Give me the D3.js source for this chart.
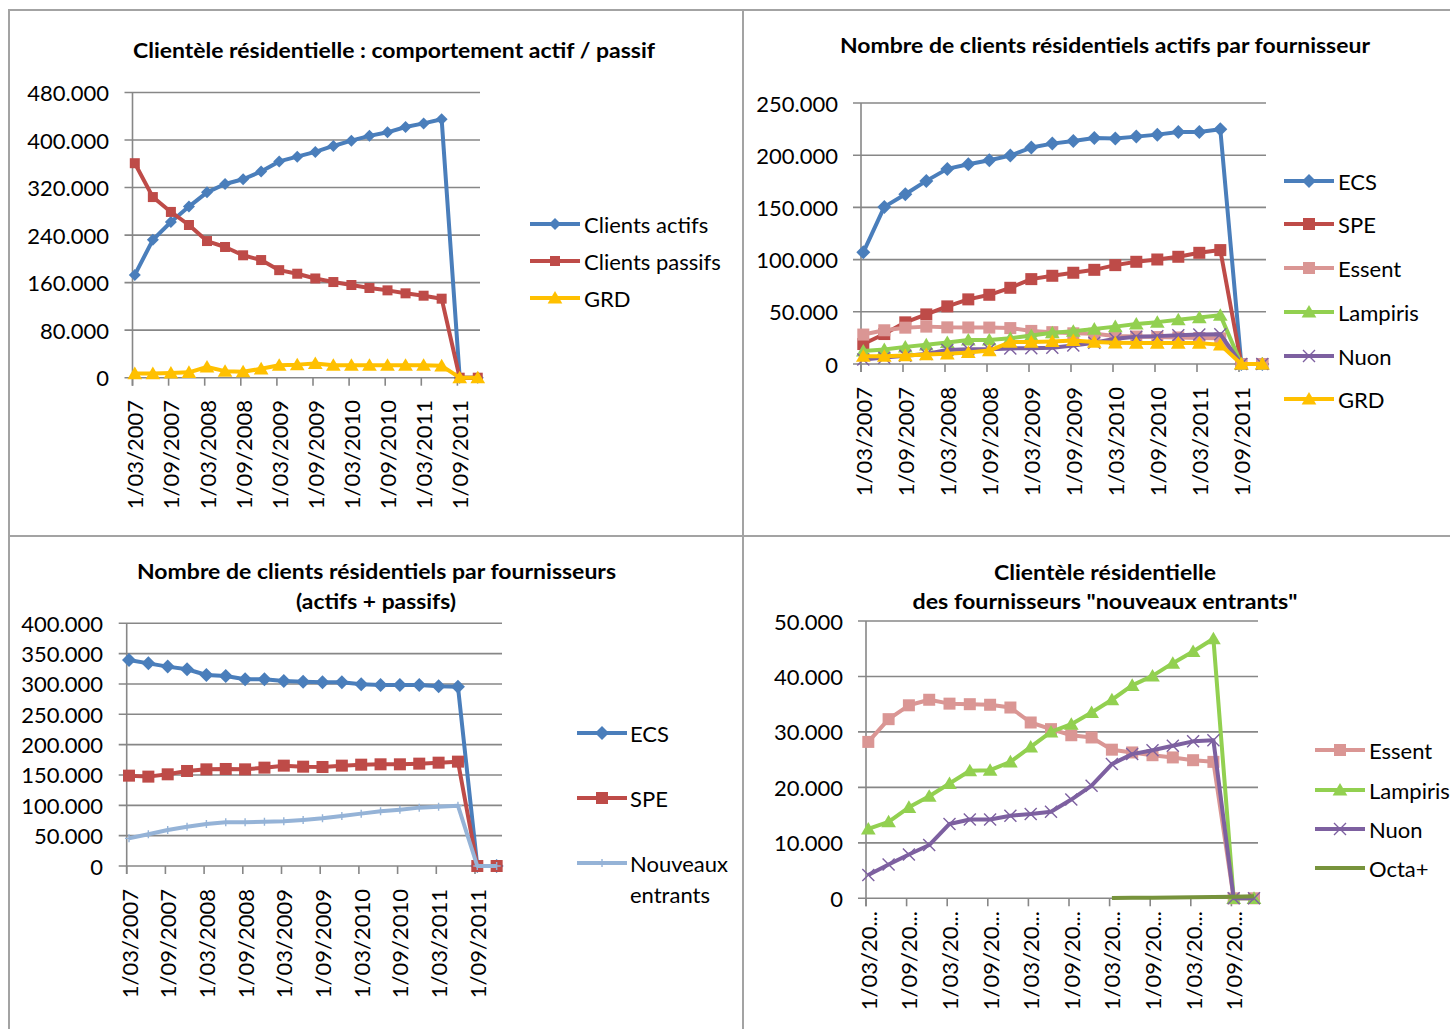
<!DOCTYPE html>
<html><head><meta charset="utf-8">
<script src="https://cdn.jsdelivr.net/npm/d3@7"></script>
<style>
body{margin:0;background:#fff}
svg{display:block}
text{font-family:Lato,'Open Sans',sans-serif;fill:#000}
</style>
</head><body>
<script>
// ---------- DATA ----------
const dates = ["1/03/2007","1/06/2007","1/09/2007","1/12/2007","1/03/2008","1/06/2008","1/09/2008","1/12/2008",
  "1/03/2009","1/06/2009","1/09/2009","1/12/2009","1/03/2010","1/06/2010","1/09/2010","1/12/2010",
  "1/03/2011","1/06/2011","1/09/2011","1/12/2011"];

// Panel 1 : comportement actif / passif
const clientsActifs  = [173000,232000,262000,288000,312000,326000,334000,347000,364000,372000,380000,390000,399000,407000,413000,422000,428000,435000,0,0];
const clientsPassifs = [361000,304000,279000,257000,230000,220000,206000,198000,181000,175000,167000,161000,156000,151000,147000,142000,138000,133000,0,0];
const grdTotal       = [7000,7000,8000,9000,18000,11000,10000,15000,21000,22000,24000,21000,21000,21000,21000,21000,21000,20000,0,0];

// Panel 2 : clients actifs par fournisseur
const ecsActifs = [107000,150500,162600,175400,186900,191300,195200,199600,207300,211100,213600,216500,215900,217800,219700,222300,222300,224800,0,0];
const speActifs = [19100,28700,39900,47500,55200,61900,66300,73000,81300,84500,87400,90200,94700,97900,100100,102700,106500,109100,0,0];
const essent    = [28200,32300,34800,35800,35100,35000,34900,34400,31700,30500,29400,29000,26800,26300,25800,25400,24900,24600,0,0];
const lampiris  = [12500,13800,16400,18400,20700,23000,23100,24600,27300,30000,31400,33500,35800,38400,40100,42400,44500,46800,0,0];
const nuon      = [4200,6100,7900,9600,13400,14200,14200,14900,15200,15600,17800,20300,24200,26000,26700,27500,28300,28500,0,0];
const grdActifs = [7400,7400,8100,9000,9700,11000,12900,21000,21000,21600,22600,21000,20300,20000,20000,20000,20000,18400,0,0];

// Panel 3 : actifs + passifs
const ecsTotal = [339600,334000,328600,324200,314800,313200,307700,307700,305000,303800,302700,302700,299500,298400,298400,298400,296200,295600,0,0];
const speTotal = [148900,147300,151100,156600,159300,159900,159300,162100,165400,163700,163200,165400,167000,167600,167600,168700,170300,172000,0,0];
const nouveauxEntrants = [45600,52200,59300,64800,69200,72000,72000,73100,73600,75800,78600,82400,86300,90100,92900,96200,97800,99500,0,0];

// Panel 4 : nouveaux entrants
const octaPlus = [null,null,null,null,null,null,null,null,null,null,null,null,50,80,120,160,200,250,300,350];

// ---------- SETUP ----------
const W = 1450, H = 1029;
const svg = d3.select("body").append("svg").attr("width", W).attr("height", H);
svg.append("rect").attr("width", W).attr("height", H).attr("fill", "#fff");

const loc = d3.formatLocale({decimal: ",", thousands: ".", grouping: [3], currency: ["", "€"]});
const fmt = loc.format(",.0f");
const GRID = "#878787";
const FRAME = "#a3a3a3";

// frame lines
[[8,10,1450,10],[9,10,9,1029],[743,10,743,1029],[8,536,1450,536]].forEach(l=>{
  svg.append("line").attr("x1",l[0]).attr("y1",l[1]).attr("x2",l[2]).attr("y2",l[3])
    .attr("stroke",FRAME).attr("stroke-width",2);
});

const C = {
  blue:"#4A7EBB", red:"#BE4B48", pink:"#DA9694", green:"#92D050",
  purple:"#7D60A0", yellow:"#FFC000", olive:"#77933C", lightblue:"#95B3D7"
};

function marker(g, type, cx, cy, color, s) {
  if (type === "diamond") {
    g.append("path").attr("d", `M${cx},${cy-s}L${cx+s},${cy}L${cx},${cy+s}L${cx-s},${cy}Z`).attr("fill", color);
  } else if (type === "square") {
    g.append("rect").attr("x", cx-s).attr("y", cy-s).attr("width", 2*s).attr("height", 2*s).attr("fill", color);
  } else if (type === "triangle") {
    g.append("path").attr("d", `M${cx},${cy-s}L${cx+s*1.05},${cy+s*0.8}L${cx-s*1.05},${cy+s*0.8}Z`).attr("fill", color);
  } else if (type === "x") {
    g.append("path").attr("d", `M${cx-s},${cy-s}L${cx+s},${cy+s}M${cx+s},${cy-s}L${cx-s},${cy+s}`)
      .attr("stroke", color).attr("stroke-width", 1.4).attr("fill", "none");
  } else if (type === "plus") {
    g.append("path").attr("d", `M${cx-s},${cy}L${cx+s},${cy}M${cx},${cy-s}L${cx},${cy+s}`)
      .attr("stroke", color).attr("stroke-width", 1.4).attr("fill", "none");
  }
}

function drawPanel(cfg) {
  const g = svg.append("g");
  const x = d3.scalePoint().domain(dates).range([cfg.axisX + 2.3, cfg.axisX + 2.3 + 19*cfg.step]);
  const y = d3.scaleLinear().domain([0, cfg.ymax]).range([cfg.yBot, cfg.yTop]);
  const ticks = d3.range(0, cfg.ymax + 1, cfg.ystep);

  // gridlines + y tick marks
  g.selectAll(".grid").data(ticks).join("line")
    .attr("x1", cfg.axisX - 8).attr("x2", cfg.gridRight)
    .attr("y1", d => y(d)).attr("y2", d => y(d))
    .attr("stroke", GRID).attr("stroke-width", 1.6);
  // y axis line
  g.append("line").attr("x1", cfg.axisX).attr("x2", cfg.axisX)
    .attr("y1", cfg.yTop).attr("y2", cfg.yBot + 8).attr("stroke", GRID).attr("stroke-width", 1.6);
  // x tick marks
  const labelDates = dates.filter((d,i) => i % 2 === 0);
  g.selectAll(".xt").data(labelDates).join("line")
    .attr("x1", d => x(d) - 2.3).attr("x2", d => x(d) - 2.3)
    .attr("y1", cfg.yBot).attr("y2", cfg.yBot + 8)
    .attr("stroke", GRID).attr("stroke-width", 1.6);
  // y labels
  g.selectAll(".yl").data(ticks).join("text")
    .attr("x", cfg.labelRight).attr("y", d => y(d))
    .attr("text-anchor", "end").attr("dominant-baseline", "central")
    .attr("font-size", cfg.fs).text(d => fmt(d));
  // x labels
  g.selectAll(".xl").data(labelDates).join("text")
    .attr("transform", d => `translate(${x(d)},${cfg.xLabelTop}) rotate(-90)`)
    .attr("text-anchor", "end").attr("dominant-baseline", "central")
    .attr("font-size", cfg.fs).text(d => cfg.truncate ? d.slice(0, 7) + "..." : d);

  // series
  cfg.series.forEach(s => {
    g.append("path").datum(s.values).attr("d", d3.line()
        .defined(d => d != null)
        .x((d,i) => x(dates[i])).y(d => y(d)))
      .attr("fill", "none").attr("stroke", s.color).attr("stroke-width", s.lw || 4)
      .attr("stroke-linejoin", "round");
    if (s.marker) {
      s.values.forEach((v,i) => { if (v != null) marker(g, s.marker, x(dates[i]), y(v), s.mcolor || s.color, s.ms); });
    }
  });

  // legend
  cfg.series.forEach((s, k) => {
    const ly = cfg.legend.ys[k];
    g.append("line").attr("x1", cfg.legend.x1).attr("x2", cfg.legend.x2).attr("y1", ly).attr("y2", ly)
      .attr("stroke", s.color).attr("stroke-width", s.lw || 4);
    if (s.marker) marker(g, s.marker, (cfg.legend.x1 + cfg.legend.x2)/2, ly, s.mcolor || s.color, s.ms);
    const lines = s.name.split("\n");
    lines.forEach((t, j) => {
      g.append("text").attr("x", cfg.legend.tx).attr("y", ly + j*31)
        .attr("dominant-baseline", "central").attr("font-size", cfg.fs).text(t);
    });
  });

  // title
  cfg.title.forEach(t => {
    g.append("text").attr("x", t.x).attr("y", t.y).attr("text-anchor", "middle")
      .attr("dominant-baseline", "central").attr("font-weight", "bold").attr("font-size", 21.5)
      .attr("textLength", t.w).attr("lengthAdjust", "spacingAndGlyphs").text(t.t);
  });
}

drawPanel({
  axisX: 132.5, yTop: 92.5, yBot: 377.7, step: 18.05, gridRight: 480,
  ymax: 480000, ystep: 80000, labelRight: 109, xLabelTop: 400, fs: 22,
  title: [{t: "Clientèle résidentielle : comportement actif / passif", x: 394, y: 50, w: 522}],
  legend: {x1: 530, x2: 580, tx: 584, ys: [224, 261, 298]},
  series: [
    {name: "Clients actifs", values: clientsActifs, color: C.blue, marker: "diamond", ms: 6},
    {name: "Clients passifs", values: clientsPassifs, color: C.red, marker: "square", ms: 5},
    {name: "GRD", values: grdTotal, color: C.yellow, marker: "triangle", ms: 7}
  ]
});

drawPanel({
  axisX: 861, yTop: 103, yBot: 364, step: 21.0, gridRight: 1266,
  ymax: 250000, ystep: 50000, labelRight: 838, xLabelTop: 387, fs: 22,
  title: [{t: "Nombre de clients résidentiels actifs par fournisseur", x: 1105, y: 45, w: 530}],
  legend: {x1: 1284, x2: 1334, tx: 1338, ys: [181, 224, 268, 312, 356, 399]},
  series: [
    {name: "ECS", values: ecsActifs, color: C.blue, marker: "diamond", ms: 7},
    {name: "SPE", values: speActifs, color: C.red, marker: "square", ms: 6},
    {name: "Essent", values: essent, color: C.pink, marker: "square", ms: 6},
    {name: "Lampiris", values: lampiris, color: C.green, marker: "triangle", ms: 7},
    {name: "Nuon", values: nuon, color: C.purple, marker: "x", ms: 6},
    {name: "GRD", values: grdActifs, color: C.yellow, marker: "triangle", ms: 7}
  ]
});

drawPanel({
  axisX: 126.7, yTop: 623.3, yBot: 866, step: 19.35, gridRight: 502,
  ymax: 400000, ystep: 50000, labelRight: 103, xLabelTop: 889, fs: 22,
  title: [{t: "Nombre de clients résidentiels par fournisseurs", x: 376.5, y: 571, w: 479},
          {t: "(actifs + passifs)", x: 376, y: 601, w: 160}],
  legend: {x1: 577, x2: 627, tx: 630, ys: [733, 798, 863]},
  series: [
    {name: "ECS", values: ecsTotal, color: C.blue, marker: "diamond", ms: 7},
    {name: "SPE", values: speTotal, color: C.red, marker: "square", ms: 6},
    {name: "Nouveaux\nentrants", values: nouveauxEntrants, color: C.lightblue, marker: "plus", ms: 4}
  ]
});

drawPanel({
  axisX: 866, yTop: 621, yBot: 898.3, step: 20.3, gridRight: 1258,
  ymax: 50000, ystep: 10000, labelRight: 843, xLabelTop: 911, fs: 22, truncate: true,
  title: [{t: "Clientèle résidentielle", x: 1105, y: 572, w: 222},
          {t: "des fournisseurs \"nouveaux entrants\"", x: 1105, y: 601, w: 385}],
  legend: {x1: 1315, x2: 1365, tx: 1369, ys: [750, 790, 829, 868]},
  series: [
    {name: "Essent", values: essent, color: C.pink, marker: "square", ms: 6},
    {name: "Lampiris", values: lampiris, color: C.green, marker: "triangle", ms: 7},
    {name: "Nuon", values: nuon, color: C.purple, marker: "x", ms: 6},
    {name: "Octa+", values: octaPlus, color: C.olive}
  ]
});
</script>
</body></html>
